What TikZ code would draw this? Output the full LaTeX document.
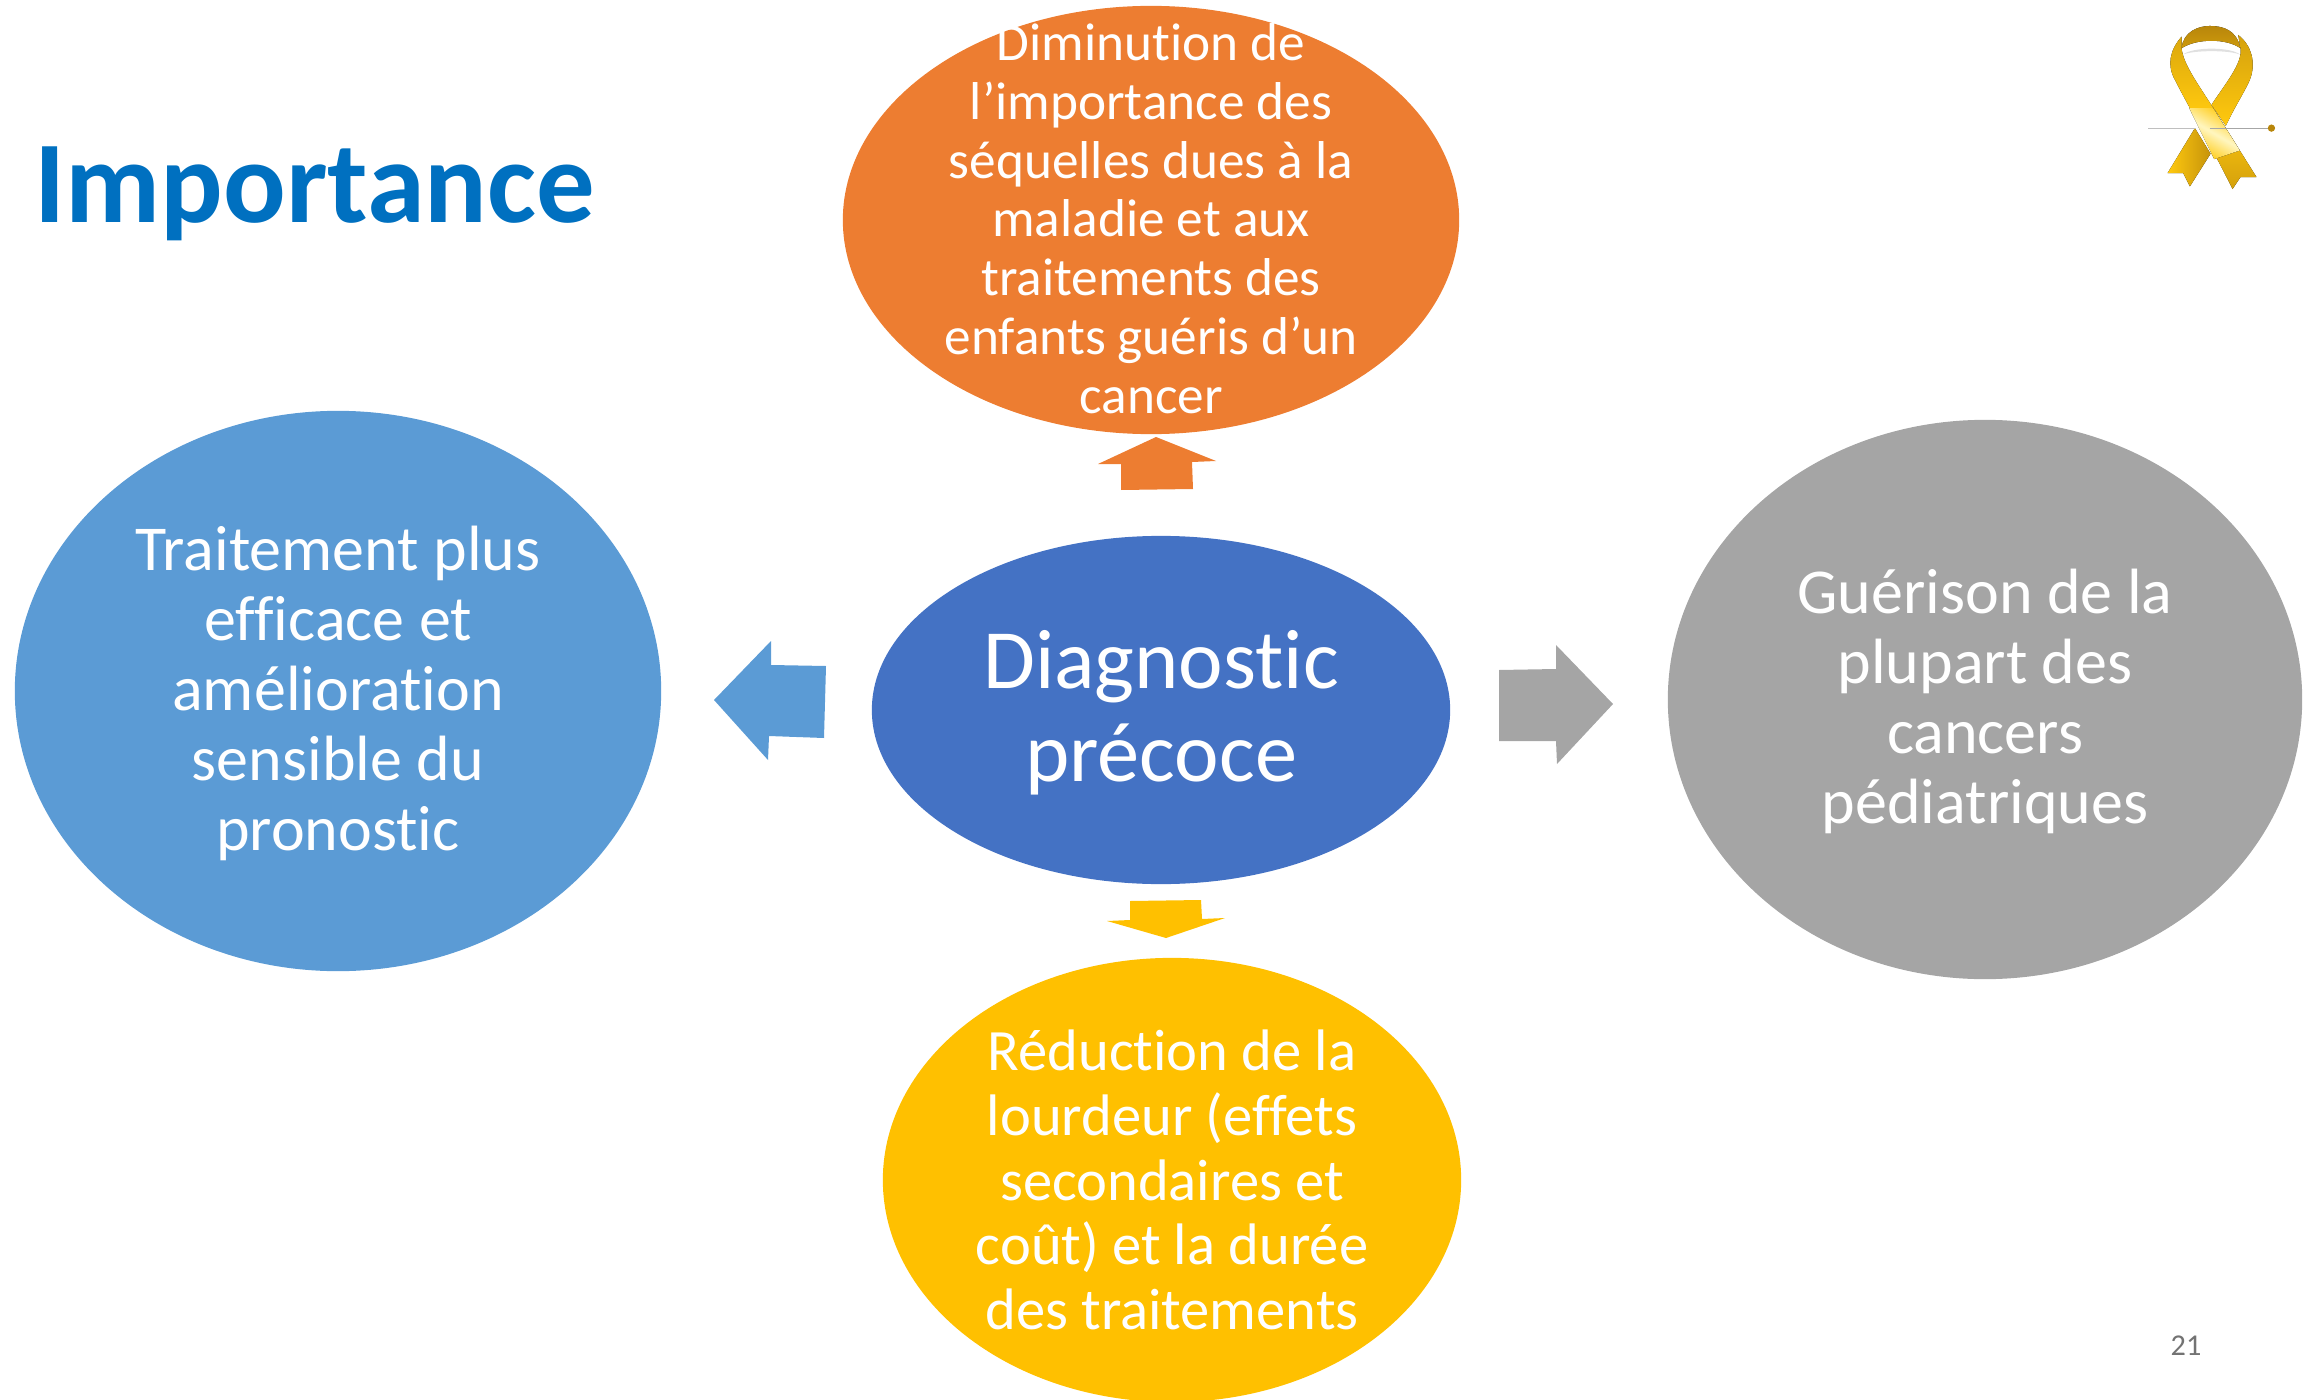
\documentclass[tikz,border=0pt]{standalone}
\usepackage{fontspec}
\setmainfont{Carlito}[Ligatures=NoCommon]
\usetikzlibrary{shapes.geometric}
\definecolor{bubbleorange}{HTML}{ED7D31}
\definecolor{bubbleblue}{HTML}{5B9BD5}
\definecolor{bubblecentre}{HTML}{4472C4}
\definecolor{bubblegrey}{HTML}{A5A5A5}
\definecolor{bubbleyellow}{HTML}{FFC000}
\definecolor{titleblue}{HTML}{0070C0}
\definecolor{ribbonA}{HTML}{FFC90E}
\definecolor{ribbonB}{HTML}{B8860B}
\definecolor{ribbonC}{HTML}{FFF6C0}
\tikzset{
  bubble/.style={draw=none,shape=ellipse,inner sep=0pt,outer sep=0pt},
  every label/.style={text=white,align=center,inner sep=0pt},
  bigtext/.style={label={[yshift=-0.8pt,font=\fontsize{24}{26.5}\selectfont]center:#1}},
  midtext/.style={label={[yshift=-0.6pt,font=\fontsize{18.2}{19.9}\selectfont]center:#1}},
  lowtext/.style={label={[font=\fontsize{16.65}{18.4}\selectfont]center:#1}},
  smalltext/.style={label={[yshift=0.4pt,font=\fontsize{15.15}{16.7}\selectfont]center:#1}}
}
\begin{document}
\begin{tikzpicture}[x=0.01cm,y=-0.01cm]
  \useasboundingbox (0,0) rectangle (2318,1400);
  \path (34,194) node[anchor=west,inner sep=0pt,text=titleblue,font=\fontsize{33.2}{40}\selectfont\bfseries] (title) {Importance};
  \path (1151,220) node[bubble,fill=bubbleorange,minimum width=6.16cm,minimum height=4.28cm,
    smalltext={Diminution de\\l’importance des\\séquelles dues à la\\maladie et aux\\traitements des\\enfants guéris d’un\\cancer}] (sequelles) {};
  \path (338,691) node[bubble,fill=bubbleblue,minimum width=6.46cm,minimum height=5.60cm,
    midtext={Traitement plus\\efficace et\\amélioration\\sensible du\\pronostic}] (traitement) {};
  \path (1161,710) node[bubble,fill=bubblecentre,minimum width=5.78cm,minimum height=3.48cm,
    bigtext={Diagnostic\\précoce}] (diagnostic) {};
  \path (1985,699.5) node[bubble,fill=bubblegrey,minimum width=6.34cm,minimum height=5.59cm,
    midtext={Guérison de la\\plupart des\\cancers\\pédiatriques}] (guerison) {};
  \path (1172,1180) node[bubble,fill=bubbleyellow,minimum width=5.78cm,minimum height=4.44cm,
    lowtext={Réduction de la\\lourdeur (effets\\secondaires et\\coût) et la durée\\des traitements}] (reduction) {};
  % block arrows
  \fill[bubbleorange] (1156,437) -- (1216,461) -- (1192,462) -- (1193,489) -- (1121,490) -- (1121,464) -- (1098,464) -- cycle;
  \fill[bubbleblue] (714,700) -- (771,641) -- (771,665) -- (826,666) -- (824,738) -- (769,736) -- (768,760) -- cycle;
  \fill[bubblegrey] (1499,670) -- (1556,669) -- (1556,645) -- (1613,704) -- (1557,764) -- (1556,741) -- (1499,741) -- cycle;
  \fill[bubbleyellow] (1130,901) -- (1201,900) -- (1202,919) -- (1225,918) -- (1166,938) -- (1107,921) -- (1130,920) -- cycle;
  % ribbon
  \begin{scope}[shift={(2120,0)},x=0.00333cm,y=-0.00333cm]
    \fill[black!12] (188,165) .. controls (215,140) and (335,140) .. (362,165) .. controls (335,150) and (215,150) .. (188,165) -- cycle;
    \fill[left color=ribbonA,right color=ribbonB!80!ribbonA] (225,385) -- (143,520) -- (190,520) -- (210,560) -- (272,462) -- cycle;
    \fill[top color=ribbonB,bottom color=ribbonB!70!ribbonA] (185,145) .. controls (190,95) and (235,78) .. (270,78) .. controls (310,78) and (350,90) .. (362,145) .. controls (320,115) and (230,115) .. (185,145) -- cycle;
    \fill[top color=ribbonB!60!ribbonA,bottom color=ribbonA] (355,105) .. controls (395,135) and (410,190) .. (390,240) .. controls (375,275) and (345,320) .. (318,378) -- (275,315) .. controls (310,260) and (370,190) .. (362,145) -- cycle;
    \fill[top color=ribbonB!50!ribbonA,bottom color=ribbonB!60!ribbonA,middle color=ribbonA] (185,110) .. controls (150,150) and (140,195) .. (165,240) .. controls (195,300) and (280,450) .. (338,568) -- (362,532) -- (410,532) -- (280,325) .. controls (240,260) and (190,195) .. (185,145) -- cycle;
    \fill[top color=ribbonA,bottom color=ribbonA,middle color=ribbonC,shading angle=-30] (208,325) -- (280,325) -- (360,452) -- (283,478) -- cycle;
    \draw[black!25,line width=0.35pt] (85,385) -- (225,385);
    \draw[black!35,line width=0.35pt] (270,385) -- (445,385);
    \fill[ribbonB] (455,385) circle (11);
  \end{scope}
  \path (2186,1346) node[inner sep=0pt,text=black!55,font=\fontsize{8.6}{10}\selectfont] (pagenum) {21};
\end{tikzpicture}
\end{document}
